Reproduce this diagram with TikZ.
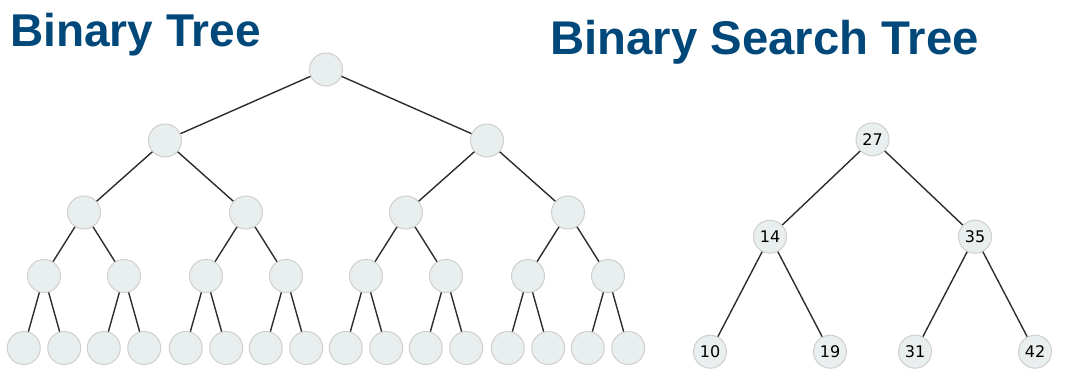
\documentclass[tikz,border=0pt]{standalone}
\usepackage{fontspec}
\setmainfont{Liberation Sans}
\newfontfamily\keyfont{DejaVu Sans}
\definecolor{headblue}{RGB}{0,72,122}
\definecolor{keyfill}{RGB}{233,238,238}
\definecolor{keyline}{RGB}{207,207,207}
\definecolor{branch}{RGB}{45,45,45}
\tikzset{
    heading/.style = {font=\fontsize{46}{50}\selectfont\bfseries,
        text=headblue, inner sep=0pt, anchor=base west},
    key/.style = {circle, minimum size=33pt, inner sep=0pt,
        fill=keyfill, draw=keyline, line width=1pt,
        font=\keyfont\fontsize{16}{18}\selectfont},
    edge from parent/.style = {draw=branch, line width=1.4pt}
}
\begin{document}
\begin{tikzpicture}[x=1pt, y=-1pt]
    \useasboundingbox (0,0) rectangle (1067,377);

    \node[heading] (bthead) at (10,47) {Binary Tree};
    \node[heading, font=\fontsize{47.3}{50}\selectfont\bfseries]
        (bsthead) at (550,55) {Binary Search Tree};

    % full tree, four levels below the root
    \begin{scope}[
        level 1/.style = {sibling distance=322pt, level distance=71pt},
        level 2/.style = {sibling distance=162pt, level distance=72pt},
        level 3/.style = {sibling distance=80pt, level distance=63.5pt},
        level 4/.style = {sibling distance=40.5pt, level distance=72pt}]
        \node[key] (bt) at (326,69.5) {}
        child foreach \a in {1,2} { node[key] {}
            child foreach \b in {1,2} { node[key] {}
                child foreach \c in {1,2} { node[key] {}
                    child foreach \d in {1,2} { node[key] {} }
                }
            }
        };
    \end{scope}

    % search tree with keys
    \begin{scope}[
        level 1/.style = {sibling distance=205pt, level distance=97.4pt},
        level 2/.style = {sibling distance=120pt, level distance=115pt}]
        \node[key] (bst) at (872.5,139.3) {27}
        child { node[key] (k14) {14}
            child { node[key] (k10) {10} }
            child { node[key] (k19) {19} }
        }
        child { node[key] (k35) {35}
            child { node[key] (k31) {31} }
            child { node[key] (k42) {42} }
        };
    \end{scope}
\end{tikzpicture}
\end{document}
